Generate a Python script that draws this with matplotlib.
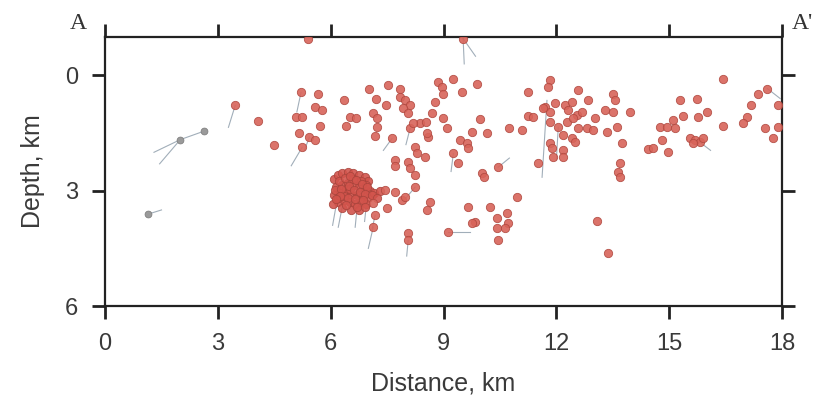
import matplotlib
matplotlib.use("Agg")
import matplotlib.pyplot as plt
import numpy as np

# Hypocentre positions (distance km, depth km)
dist = [3.46, 4.07, 4.49, 5.40, 5.21, 5.66, 5.08, 5.24, 5.59, 5.77, 5.72, 5.16, 5.43, 5.59, 5.24,
        6.36, 6.52, 6.68, 6.41, 7.02, 7.53, 7.85, 7.21, 7.47, 7.13, 7.23, 7.23, 7.18, 7.63,
        7.85, 7.98, 8.11, 7.93, 8.06, 8.11, 8.38, 8.54, 8.70, 8.78, 8.59, 8.24, 8.30, 8.51,
        7.71, 7.71, 8.06, 8.11, 8.24, 8.24, 7.45, 7.71, 7.90, 7.98, 7.13, 7.50, 7.18, 7.13,
        8.06, 8.06,
        9.52, 8.86, 8.96, 9.26, 9.89, 9.49, 8.99, 8.99, 9.10, 8.19, 8.56, 9.97, 9.76, 10.16,
        9.44, 9.63, 9.65, 9.26, 9.39, 10.03, 10.08, 10.45, 10.74, 11.09, 11.25, 11.25, 11.38,
        11.84, 11.70, 11.84, 11.52, 11.91, 10.96, 8.64, 8.56, 9.65, 10.24, 9.84, 9.76, 9.12,
        10.43, 10.69, 10.72, 10.43, 10.64, 10.45,
        12.58, 11.78, 11.65, 11.97, 12.23, 12.42, 12.31, 12.55, 12.85, 13.03, 13.30, 13.35,
        11.84, 12.05, 12.29, 12.45, 12.58, 12.82, 12.18, 12.42, 12.50, 11.84, 11.89, 12.18,
        12.18, 12.69, 13.51, 13.56, 13.51, 13.96, 13.62, 13.75, 13.70, 13.64, 13.70, 13.09,
        13.38, 12.98,
        14.76, 14.95, 15.11, 15.16, 15.37, 15.29, 14.81, 14.44, 14.57, 14.97, 15.74, 15.77,
        16.01, 16.44, 16.44, 15.56, 15.69, 15.82, 15.90, 15.64, 17.37, 17.61, 17.18, 17.07,
        16.97, 17.90, 17.55, 17.90, 17.77]
depth = [0.78, 1.19, 1.82, -0.96, 0.44, 0.47, 1.09, 1.09, 0.83, 0.91, 1.32, 1.51, 1.61, 1.69, 1.87,
         0.65, 1.09, 1.12, 1.32, 0.36, 0.26, 0.34, 0.62, 0.78, 0.99, 1.12, 1.35, 1.58, 1.64,
         0.57, 0.65, 0.78, 0.86, 0.99, 1.38, 1.25, 1.22, 0.99, 0.70, 1.61, 1.87, 2.03, 2.13,
         2.21, 2.36, 2.26, 2.42, 2.60, 2.91, 2.99, 3.04, 3.25, 3.17, 3.32, 3.45, 3.64, 3.95,
         4.10, 4.29,
         -0.96, 0.18, 0.29, 0.08, 0.23, 0.44, 0.47, 1.12, 1.38, 1.25, 1.51, 1.14, 1.48, 1.51,
         1.69, 1.77, 1.90, 2.03, 2.29, 2.55, 2.65, 2.39, 1.38, 1.43, 0.44, 1.06, 1.09,
         0.13, 0.83, 0.96, 2.29, 2.13, 3.17, 3.30, 3.51, 3.43, 3.43, 3.82, 3.84, 4.08,
         3.71, 3.58, 3.84, 3.97, 3.97, 4.29,
         0.39, 0.31, 0.86, 0.73, 0.78, 0.70, 0.91, 1.04, 0.65, 1.12, 0.91, 1.48,
         1.22, 1.35, 1.22, 1.12, 1.38, 1.38, 1.56, 1.64, 1.74, 1.77, 1.90, 1.95,
         2.13, 0.96, 0.47, 0.65, 0.96, 0.96, 1.35, 1.77, 2.29, 2.52, 2.65, 3.79,
         4.62, 1.43,
         1.35, 1.35, 1.17, 1.38, 1.06, 0.65, 1.69, 1.92, 1.90, 2.00, 0.60, 1.09,
         0.96, 0.10, 1.32, 1.64, 1.69, 1.74, 1.64, 1.77, 0.47, 0.34, 0.78, 1.09,
         1.25, 0.78, 1.38, 1.35, 1.64]

# Dense swarm near 6-7 km distance, 2.5-3.5 km depth
swarm_dist = [6.10, 6.20, 6.30, 6.45, 6.60, 6.75, 6.90, 7.00, 6.15, 6.30, 6.45, 6.60, 6.75, 6.90,
              7.05, 6.10, 6.25, 6.40, 6.55, 6.70, 6.85, 7.00, 6.20, 6.35, 6.50, 6.65, 6.80, 6.95,
              6.30, 6.55, 6.75, 6.05, 7.15, 7.30, 6.60, 6.40, 6.80, 6.20, 6.95, 6.50, 6.35,
              6.22, 6.38, 6.52, 6.68, 6.82, 6.97, 6.12, 6.28, 6.48, 6.62, 6.78, 6.92, 7.10,
              6.25, 6.45, 6.65, 6.85, 6.40, 6.70, 7.22, 6.15, 6.90]
swarm_depth = [2.70, 2.60, 2.55, 2.50, 2.55, 2.60, 2.65, 2.75, 2.90, 2.85, 2.80, 2.85, 2.90, 2.95,
               3.00, 3.10, 3.05, 3.05, 3.10, 3.10, 3.15, 3.20, 3.30, 3.25, 3.30, 3.35, 3.30, 3.35,
               3.45, 3.50, 3.50, 3.35, 3.05, 3.00, 2.70, 2.95, 2.75, 3.20, 2.85, 2.95, 3.15,
               2.75, 2.68, 2.62, 2.72, 2.82, 2.90, 2.98, 2.95, 2.88, 2.98, 3.02, 3.08, 3.12,
               3.15, 3.20, 3.22, 3.25, 3.38, 3.42, 3.18, 3.22, 3.42]

# Grey (poorly constrained) events
grey_dist = [2.00, 2.63, 1.14]
grey_depth = [1.67, 1.45, 3.61]

# Error tails: (start dist, start depth, end dist, end depth)
tail_x0 = [3.46, 5.24, 5.21, 9.52, 9.52, 9.12, 7.13, 11.75, 8.06, 8.24, 10.45, 12.05, 6.15, 6.70,
           7.18, 17.61, 15.82, 2.00, 2.63, 2.00, 1.14, 5.43, 7.63, 9.26, 8.11, 6.30, 6.95]
tail_y0 = [0.78, 1.87, 0.44, -0.96, -0.96, 4.08, 3.95, 0.65, 4.29, 2.91, 2.39, 1.35, 3.35, 3.45,
           3.64, 0.34, 1.74, 1.67, 1.45, 1.67, 3.61, 1.61, 1.64, 2.03, 1.38, 3.45, 3.35]
tail_x1 = [3.28, 4.95, 5.10, 9.55, 9.85, 9.70, 7.00, 11.62, 8.02, 7.95, 10.75, 12.00, 6.05, 6.65,
           7.10, 17.95, 16.10, 1.30, 2.00, 1.45, 1.50, 5.30, 7.40, 9.20, 8.00, 6.20, 6.90]
tail_y1 = [1.35, 2.35, 0.95, -0.30, -0.50, 4.08, 4.50, 2.65, 4.70, 3.25, 2.15, 2.20, 3.90, 3.95,
           4.00, 0.60, 1.95, 2.00, 1.67, 2.30, 3.50, 1.95, 1.95, 2.50, 1.80, 3.95, 3.80]

x_ticks = [0, 3, 6, 9, 12, 15, 18]
y_ticks = [0, 3, 6]

fig = plt.figure(figsize=(8.21, 4.05), dpi=100)
ax = fig.add_axes([0.128, 0.2444, 0.8245, 0.6642])

for x0, y0, x1, y1 in zip(tail_x0, tail_y0, tail_x1, tail_y1):
    ax.plot([x0, x1], [y0, y1], color="#8a9aa8", lw=0.8, alpha=0.8, zorder=1)

ax.scatter(grey_dist, grey_depth, s=24, color="#9a9a9a", edgecolor="#808080", lw=0.6, zorder=2)
ax.scatter(swarm_dist, swarm_depth, s=36, color="#d2544c", edgecolor="#a8443c", lw=0.6,
           alpha=0.9, zorder=3)
ax.scatter(dist, depth, s=36, color="#d8645a", edgecolor="#b0483f", lw=0.6, alpha=0.9, zorder=3)

ax.set_xlim(0, 18)
ax.set_ylim(6, -1)
ax.set_xticks(x_ticks)
ax.set_yticks(y_ticks)
ax.tick_params(axis="both", which="both", direction="out", length=9.5, width=2.0,
               color="#222222", labelsize=17, labelcolor="#3a3a3a")
ax.tick_params(axis="x", top=True, labeltop=False, pad=10)
ax.tick_params(axis="y", right=True, labelright=False, pad=10)
for sp in ax.spines.values():
    sp.set_linewidth(1.6)
    sp.set_color("#222222")

for lab in ax.get_xticklabels() + ax.get_yticklabels():
    lab.set_family("Liberation Sans")

ax.set_xlabel("Distance, km", fontsize=18, family="Liberation Sans", color="#3a3a3a", labelpad=12)
ax.set_ylabel("Depth, km", fontsize=18, family="Liberation Sans", color="#3a3a3a", labelpad=14)

ax.text(-0.027, 1.05, "A", transform=ax.transAxes, ha="right", va="center",
        fontsize=17, family="Liberation Serif", color="#333333")
ax.text(1.015, 1.05, "A'", transform=ax.transAxes, ha="left", va="center",
        fontsize=17, family="Liberation Serif", color="#333333")

fig.savefig("out.png", dpi=100)
